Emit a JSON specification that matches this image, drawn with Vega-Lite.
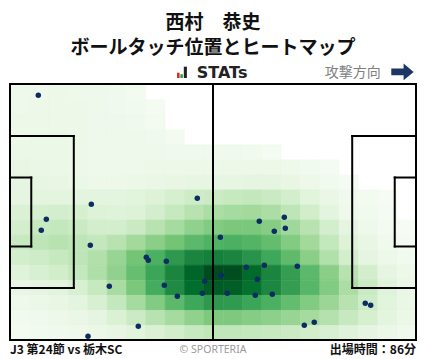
{
"$schema": "https://vega.github.io/schema/vega-lite/v6.json",
"width": 406, "height": 256,
"autosize": {"type": "none"},
"padding": {"left": 10, "top": 84, "right": 12, "bottom": 19},
"background": "white",
"title": {"text": ["西村　恭史", "ボールタッチ位置とヒートマップ"], "anchor": "middle", "frame": "group", "font": "Noto Sans CJK JP", "fontSize": 19, "fontWeight": "bold", "lineHeight": 25, "color": "#111111", "offset": 6},
"config": {"view": {"stroke": null}},
"datasets": {
"heat": [
{"x0":0,"y0":64,"v":0.06},{"x0":5,"y0":64,"v":0.06},{"x0":10,"y0":64,"v":0.07},{"x0":15,"y0":64,"v":0.06},{"x0":20,"y0":64,"v":0.06},{"x0":25,"y0":64,"v":0.05},{"x0":30,"y0":64,"v":0.03},
{"x0":0,"y0":60,"v":0.06},{"x0":5,"y0":60,"v":0.07},{"x0":10,"y0":60,"v":0.07},{"x0":15,"y0":60,"v":0.07},{"x0":20,"y0":60,"v":0.06},{"x0":25,"y0":60,"v":0.05},{"x0":30,"y0":60,"v":0.04},{"x0":35,"y0":60,"v":0.02},
{"x0":0,"y0":56,"v":0.07},{"x0":5,"y0":56,"v":0.07},{"x0":10,"y0":56,"v":0.07},{"x0":15,"y0":56,"v":0.07},{"x0":20,"y0":56,"v":0.06},{"x0":25,"y0":56,"v":0.06},{"x0":30,"y0":56,"v":0.05},{"x0":35,"y0":56,"v":0.03},
{"x0":0,"y0":52,"v":0.07},{"x0":5,"y0":52,"v":0.08},{"x0":10,"y0":52,"v":0.08},{"x0":15,"y0":52,"v":0.07},{"x0":20,"y0":52,"v":0.06},{"x0":25,"y0":52,"v":0.06},{"x0":30,"y0":52,"v":0.06},{"x0":35,"y0":52,"v":0.05},{"x0":40,"y0":52,"v":0.03},
{"x0":0,"y0":48,"v":0.08},{"x0":5,"y0":48,"v":0.08},{"x0":10,"y0":48,"v":0.08},{"x0":15,"y0":48,"v":0.07},{"x0":20,"y0":48,"v":0.06},{"x0":25,"y0":48,"v":0.06},{"x0":30,"y0":48,"v":0.06},{"x0":35,"y0":48,"v":0.06},{"x0":40,"y0":48,"v":0.05},{"x0":45,"y0":48,"v":0.05},{"x0":50,"y0":48,"v":0.05},{"x0":55,"y0":48,"v":0.05},{"x0":60,"y0":48,"v":0.04},{"x0":65,"y0":48,"v":0.02},
{"x0":0,"y0":44,"v":0.1},{"x0":5,"y0":44,"v":0.09},{"x0":10,"y0":44,"v":0.08},{"x0":15,"y0":44,"v":0.07},{"x0":20,"y0":44,"v":0.06},{"x0":25,"y0":44,"v":0.06},{"x0":30,"y0":44,"v":0.06},{"x0":35,"y0":44,"v":0.07},{"x0":40,"y0":44,"v":0.07},{"x0":45,"y0":44,"v":0.07},{"x0":50,"y0":44,"v":0.07},{"x0":55,"y0":44,"v":0.07},{"x0":60,"y0":44,"v":0.07},{"x0":65,"y0":44,"v":0.07},{"x0":70,"y0":44,"v":0.06},{"x0":75,"y0":44,"v":0.04},{"x0":80,"y0":44,"v":0.02},
{"x0":0,"y0":40,"v":0.12},{"x0":5,"y0":40,"v":0.11},{"x0":10,"y0":40,"v":0.1},{"x0":15,"y0":40,"v":0.08},{"x0":20,"y0":40,"v":0.07},{"x0":25,"y0":40,"v":0.07},{"x0":30,"y0":40,"v":0.08},{"x0":35,"y0":40,"v":0.09},{"x0":40,"y0":40,"v":0.1},{"x0":45,"y0":40,"v":0.11},{"x0":50,"y0":40,"v":0.11},{"x0":55,"y0":40,"v":0.11},{"x0":60,"y0":40,"v":0.12},{"x0":65,"y0":40,"v":0.12},{"x0":70,"y0":40,"v":0.1},{"x0":75,"y0":40,"v":0.07},{"x0":80,"y0":40,"v":0.04},{"x0":85,"y0":40,"v":0.02},
{"x0":0,"y0":36,"v":0.12},{"x0":5,"y0":36,"v":0.13},{"x0":10,"y0":36,"v":0.13},{"x0":15,"y0":36,"v":0.13},{"x0":20,"y0":36,"v":0.13},{"x0":25,"y0":36,"v":0.13},{"x0":30,"y0":36,"v":0.14},{"x0":35,"y0":36,"v":0.16},{"x0":40,"y0":36,"v":0.19},{"x0":45,"y0":36,"v":0.22},{"x0":50,"y0":36,"v":0.23},{"x0":55,"y0":36,"v":0.25},{"x0":60,"y0":36,"v":0.26},{"x0":65,"y0":36,"v":0.24},{"x0":70,"y0":36,"v":0.2},{"x0":75,"y0":36,"v":0.14},{"x0":80,"y0":36,"v":0.09},{"x0":85,"y0":36,"v":0.05},{"x0":90,"y0":36,"v":0.03},{"x0":95,"y0":36,"v":0.01},
{"x0":0,"y0":32,"v":0.17},{"x0":5,"y0":32,"v":0.19},{"x0":10,"y0":32,"v":0.2},{"x0":15,"y0":32,"v":0.19},{"x0":20,"y0":32,"v":0.16},{"x0":25,"y0":32,"v":0.15},{"x0":30,"y0":32,"v":0.16},{"x0":35,"y0":32,"v":0.2},{"x0":40,"y0":32,"v":0.25},{"x0":45,"y0":32,"v":0.3},{"x0":50,"y0":32,"v":0.34},{"x0":55,"y0":32,"v":0.36},{"x0":60,"y0":32,"v":0.37},{"x0":65,"y0":32,"v":0.34},{"x0":70,"y0":32,"v":0.28},{"x0":75,"y0":32,"v":0.21},{"x0":80,"y0":32,"v":0.13},{"x0":85,"y0":32,"v":0.06},{"x0":90,"y0":32,"v":0.04},{"x0":95,"y0":32,"v":0.02},
{"x0":0,"y0":28,"v":0.2},{"x0":5,"y0":28,"v":0.25},{"x0":10,"y0":28,"v":0.26},{"x0":15,"y0":28,"v":0.24},{"x0":20,"y0":28,"v":0.2},{"x0":25,"y0":28,"v":0.2},{"x0":30,"y0":28,"v":0.24},{"x0":35,"y0":28,"v":0.3},{"x0":40,"y0":28,"v":0.36},{"x0":45,"y0":28,"v":0.42},{"x0":50,"y0":28,"v":0.46},{"x0":55,"y0":28,"v":0.48},{"x0":60,"y0":28,"v":0.48},{"x0":65,"y0":28,"v":0.45},{"x0":70,"y0":28,"v":0.38},{"x0":75,"y0":28,"v":0.3},{"x0":80,"y0":28,"v":0.2},{"x0":85,"y0":28,"v":0.12},{"x0":90,"y0":28,"v":0.06},{"x0":95,"y0":28,"v":0.03},{"x0":100,"y0":28,"v":0.01},
{"x0":0,"y0":24,"v":0.25},{"x0":5,"y0":24,"v":0.28},{"x0":10,"y0":24,"v":0.3},{"x0":15,"y0":24,"v":0.28},{"x0":20,"y0":24,"v":0.26},{"x0":25,"y0":24,"v":0.3},{"x0":30,"y0":24,"v":0.37},{"x0":35,"y0":24,"v":0.44},{"x0":40,"y0":24,"v":0.5},{"x0":45,"y0":24,"v":0.56},{"x0":50,"y0":24,"v":0.59},{"x0":55,"y0":24,"v":0.6},{"x0":60,"y0":24,"v":0.58},{"x0":65,"y0":24,"v":0.54},{"x0":70,"y0":24,"v":0.46},{"x0":75,"y0":24,"v":0.37},{"x0":80,"y0":24,"v":0.26},{"x0":85,"y0":24,"v":0.16},{"x0":90,"y0":24,"v":0.1},{"x0":95,"y0":24,"v":0.05},{"x0":100,"y0":24,"v":0.02},
{"x0":0,"y0":20,"v":0.2},{"x0":5,"y0":20,"v":0.22},{"x0":10,"y0":20,"v":0.25},{"x0":15,"y0":20,"v":0.28},{"x0":20,"y0":20,"v":0.32},{"x0":25,"y0":20,"v":0.4},{"x0":30,"y0":20,"v":0.5},{"x0":35,"y0":20,"v":0.6},{"x0":40,"y0":20,"v":0.7},{"x0":45,"y0":20,"v":0.78},{"x0":50,"y0":20,"v":0.8},{"x0":55,"y0":20,"v":0.78},{"x0":60,"y0":20,"v":0.72},{"x0":65,"y0":20,"v":0.64},{"x0":70,"y0":20,"v":0.55},{"x0":75,"y0":20,"v":0.44},{"x0":80,"y0":20,"v":0.32},{"x0":85,"y0":20,"v":0.2},{"x0":90,"y0":20,"v":0.12},{"x0":95,"y0":20,"v":0.07},{"x0":100,"y0":20,"v":0.04},
{"x0":0,"y0":16,"v":0.15},{"x0":5,"y0":16,"v":0.18},{"x0":10,"y0":16,"v":0.21},{"x0":15,"y0":16,"v":0.26},{"x0":20,"y0":16,"v":0.33},{"x0":25,"y0":16,"v":0.42},{"x0":30,"y0":16,"v":0.53},{"x0":35,"y0":16,"v":0.65},{"x0":40,"y0":16,"v":0.78},{"x0":45,"y0":16,"v":0.9},{"x0":50,"y0":16,"v":0.98},{"x0":55,"y0":16,"v":0.97},{"x0":60,"y0":16,"v":0.88},{"x0":65,"y0":16,"v":0.78},{"x0":70,"y0":16,"v":0.68},{"x0":75,"y0":16,"v":0.56},{"x0":80,"y0":16,"v":0.44},{"x0":85,"y0":16,"v":0.3},{"x0":90,"y0":16,"v":0.2},{"x0":95,"y0":16,"v":0.12},{"x0":100,"y0":16,"v":0.07},
{"x0":0,"y0":12,"v":0.1},{"x0":5,"y0":12,"v":0.12},{"x0":10,"y0":12,"v":0.14},{"x0":15,"y0":12,"v":0.18},{"x0":20,"y0":12,"v":0.25},{"x0":25,"y0":12,"v":0.35},{"x0":30,"y0":12,"v":0.48},{"x0":35,"y0":12,"v":0.62},{"x0":40,"y0":12,"v":0.76},{"x0":45,"y0":12,"v":0.87},{"x0":50,"y0":12,"v":0.93},{"x0":55,"y0":12,"v":0.92},{"x0":60,"y0":12,"v":0.86},{"x0":65,"y0":12,"v":0.77},{"x0":70,"y0":12,"v":0.68},{"x0":75,"y0":12,"v":0.57},{"x0":80,"y0":12,"v":0.46},{"x0":85,"y0":12,"v":0.34},{"x0":90,"y0":12,"v":0.24},{"x0":95,"y0":12,"v":0.15},{"x0":100,"y0":12,"v":0.09},
{"x0":0,"y0":8,"v":0.06},{"x0":5,"y0":8,"v":0.08},{"x0":10,"y0":8,"v":0.1},{"x0":15,"y0":8,"v":0.13},{"x0":20,"y0":8,"v":0.18},{"x0":25,"y0":8,"v":0.26},{"x0":30,"y0":8,"v":0.36},{"x0":35,"y0":8,"v":0.46},{"x0":40,"y0":8,"v":0.56},{"x0":45,"y0":8,"v":0.64},{"x0":50,"y0":8,"v":0.7},{"x0":55,"y0":8,"v":0.69},{"x0":60,"y0":8,"v":0.65},{"x0":65,"y0":8,"v":0.6},{"x0":70,"y0":8,"v":0.54},{"x0":75,"y0":8,"v":0.46},{"x0":80,"y0":8,"v":0.39},{"x0":85,"y0":8,"v":0.3},{"x0":90,"y0":8,"v":0.22},{"x0":95,"y0":8,"v":0.14},{"x0":100,"y0":8,"v":0.09},
{"x0":0,"y0":4,"v":0.04},{"x0":5,"y0":4,"v":0.05},{"x0":10,"y0":4,"v":0.07},{"x0":15,"y0":4,"v":0.09},{"x0":20,"y0":4,"v":0.12},{"x0":25,"y0":4,"v":0.17},{"x0":30,"y0":4,"v":0.23},{"x0":35,"y0":4,"v":0.3},{"x0":40,"y0":4,"v":0.36},{"x0":45,"y0":4,"v":0.42},{"x0":50,"y0":4,"v":0.47},{"x0":55,"y0":4,"v":0.47},{"x0":60,"y0":4,"v":0.45},{"x0":65,"y0":4,"v":0.43},{"x0":70,"y0":4,"v":0.4},{"x0":75,"y0":4,"v":0.36},{"x0":80,"y0":4,"v":0.31},{"x0":85,"y0":4,"v":0.25},{"x0":90,"y0":4,"v":0.19},{"x0":95,"y0":4,"v":0.13},{"x0":100,"y0":4,"v":0.08},
{"x0":0,"y0":0,"v":0.03},{"x0":5,"y0":0,"v":0.04},{"x0":10,"y0":0,"v":0.05},{"x0":15,"y0":0,"v":0.06},{"x0":20,"y0":0,"v":0.08},{"x0":25,"y0":0,"v":0.11},{"x0":30,"y0":0,"v":0.14},{"x0":35,"y0":0,"v":0.17},{"x0":40,"y0":0,"v":0.21},{"x0":45,"y0":0,"v":0.25},{"x0":50,"y0":0,"v":0.27},{"x0":55,"y0":0,"v":0.27},{"x0":60,"y0":0,"v":0.26},{"x0":65,"y0":0,"v":0.25},{"x0":70,"y0":0,"v":0.23},{"x0":75,"y0":0,"v":0.21},{"x0":80,"y0":0,"v":0.18},{"x0":85,"y0":0,"v":0.15},{"x0":90,"y0":0,"v":0.12},{"x0":95,"y0":0,"v":0.08},{"x0":100,"y0":0,"v":0.05}
],
"pts": [
{"x":7.32,"y":65.0},{"x":21.03,"y":36.04},{"x":48.44,"y":37.64},{"x":9.39,"y":32.06},{"x":8.09,"y":29.14},{"x":20.77,"y":25.15},{"x":35.25,"y":21.97},{"x":35.77,"y":21.17},{"x":40.42,"y":20.9},{"x":25.68,"y":14.26},{"x":39.9,"y":14.53},{"x":43.27,"y":11.61},{"x":50.35,"y":15.59},{"x":49.73,"y":12.4},{"x":33.18,"y":3.64},{"x":20.17,"y":0.98},{"x":54.39,"y":27.28},{"x":64.47,"y":31.53},{"x":70.94,"y":32.59},{"x":68.35,"y":28.87},{"x":71.2,"y":29.67},{"x":54.64,"y":17.18},{"x":61.11,"y":19.31},{"x":65.77,"y":19.84},{"x":74.3,"y":19.57},{"x":63.95,"y":16.12},{"x":56.2,"y":12.4},{"x":63.44,"y":11.87},{"x":67.83,"y":12.14},{"x":91.88,"y":9.75},{"x":93.28,"y":9.22},{"x":76.11,"y":3.9},{"x":78.69,"y":4.7}
],
"lines": [
{"x":0,"y":0,"x2":105,"y2":0},{"x":0,"y":68,"x2":105,"y2":68},{"x":0,"y":0,"x2":0,"y2":68},{"x":105,"y":0,"x2":105,"y2":68},{"x":52.5,"y":0,"x2":52.5,"y2":68},
{"x":0,"y":13.84,"x2":16.5,"y2":13.84},{"x":16.5,"y":13.84,"x2":16.5,"y2":54.16},{"x":0,"y":54.16,"x2":16.5,"y2":54.16},
{"x":0,"y":24.84,"x2":5.5,"y2":24.84},{"x":5.5,"y":24.84,"x2":5.5,"y2":43.16},{"x":0,"y":43.16,"x2":5.5,"y2":43.16},
{"x":105,"y":13.84,"x2":88.5,"y2":13.84},{"x":88.5,"y":13.84,"x2":88.5,"y2":54.16},{"x":105,"y":54.16,"x2":88.5,"y2":54.16},
{"x":105,"y":24.84,"x2":99.5,"y2":24.84},{"x":99.5,"y":24.84,"x2":99.5,"y2":43.16},{"x":105,"y":43.16,"x2":99.5,"y2":43.16}
],
"one": [{}]
},
"layer": [
{"data": {"name": "heat"},
 "mark": {"type": "rect", "strokeWidth": 0.6},
 "encoding": {
  "x": {"field": "x0", "type": "quantitative", "bin": {"binned": true, "step": 5}, "scale": {"domain": [0, 105], "nice": false, "zero": false}, "axis": null},
  "y": {"field": "y0", "type": "quantitative", "bin": {"binned": true, "step": 4}, "scale": {"domain": [0, 68], "nice": false, "zero": false}, "axis": null},
  "color": {"field": "v", "type": "quantitative", "scale": {"domain": [0, 0.125, 0.25, 0.375, 0.5, 0.625, 0.75, 0.875, 1], "range": ["#f7fcf5", "#e5f5e0", "#c7e9c0", "#a1d99b", "#74c476", "#41ab5d", "#238b45", "#006d2c", "#00441b"], "interpolate": "rgb"}, "legend": null},
  "stroke": {"field": "v", "type": "quantitative", "scale": {"domain": [0, 0.125, 0.25, 0.375, 0.5, 0.625, 0.75, 0.875, 1], "range": ["#f7fcf5", "#e5f5e0", "#c7e9c0", "#a1d99b", "#74c476", "#41ab5d", "#238b45", "#006d2c", "#00441b"], "interpolate": "rgb"}, "legend": null}
 }},
{"data": {"name": "lines"},
 "mark": {"type": "rule", "color": "#000000", "strokeWidth": 2, "strokeCap": "square"},
 "encoding": {
  "x": {"field": "x", "type": "quantitative"},
  "y": {"field": "y", "type": "quantitative"},
  "x2": {"field": "x2"},
  "y2": {"field": "y2"}
 }},
{"data": {"name": "pts"},
 "mark": {"type": "circle", "size": 30, "color": "#0b2d62", "opacity": 1},
 "encoding": {
  "x": {"field": "x", "type": "quantitative"},
  "y": {"field": "y", "type": "quantitative"}
 }},
{"data": {"name": "one"},
 "mark": {"type": "rect", "color": "#e02424"},
 "encoding": {"x": {"datum": 43.2}, "x2": {"datum": 43.85}, "y": {"datum": 69.6}, "y2": {"datum": 71.0}}},
{"data": {"name": "one"},
 "mark": {"type": "rect", "color": "#21a345"},
 "encoding": {"x": {"datum": 44.05}, "x2": {"datum": 44.7}, "y": {"datum": 69.6}, "y2": {"datum": 70.6}}},
{"data": {"name": "one"},
 "mark": {"type": "rect", "color": "#222222"},
 "encoding": {"x": {"datum": 44.95}, "x2": {"datum": 45.75}, "y": {"datum": 69.6}, "y2": {"datum": 72.6}}},
{"data": {"name": "one"},
 "mark": {"type": "text", "text": "STATs", "font": "DejaVu Sans", "fontSize": 16, "fontWeight": "bold", "color": "#222222", "align": "left", "baseline": "middle"},
 "encoding": {"x": {"datum": 48.3}, "y": {"datum": 70.9}}},
{"data": {"name": "one"},
 "mark": {"type": "text", "text": "攻撃方向", "font": "Noto Sans CJK JP", "fontSize": 14, "color": "#808080", "align": "right", "baseline": "middle"},
 "encoding": {"x": {"datum": 95.9}, "y": {"datum": 71.0}}},
{"data": {"name": "one"},
 "mark": {"type": "point", "shape": "M-1,-0.3L0.1,-0.3L0.1,-0.75L1,0L0.1,0.75L0.1,0.3L-1,0.3Z", "size": 500, "filled": true, "color": "#1c3766", "opacity": 1},
 "encoding": {"x": {"datum": 101.5}, "y": {"datum": 71.2}}},
{"data": {"name": "one"},
 "mark": {"type": "text", "text": "J3 第24節 vs 栃木SC", "font": "Noto Sans CJK JP", "fontSize": 12, "fontWeight": "bold", "color": "#111111", "align": "left", "baseline": "middle"},
 "encoding": {"x": {"datum": 0}, "y": {"datum": -2.7}}},
{"data": {"name": "one"},
 "mark": {"type": "text", "text": "© SPORTERIA", "font": "Noto Sans", "fontSize": 10.5, "color": "#9a9a9a", "align": "center", "baseline": "middle"},
 "encoding": {"x": {"datum": 52.5}, "y": {"datum": -2.6}}},
{"data": {"name": "one"},
 "mark": {"type": "text", "text": "出場時間：86分", "font": "Noto Sans CJK JP", "fontSize": 12, "fontWeight": "bold", "color": "#111111", "align": "right", "baseline": "middle"},
 "encoding": {"x": {"datum": 105}, "y": {"datum": -2.7}}}
]
}
